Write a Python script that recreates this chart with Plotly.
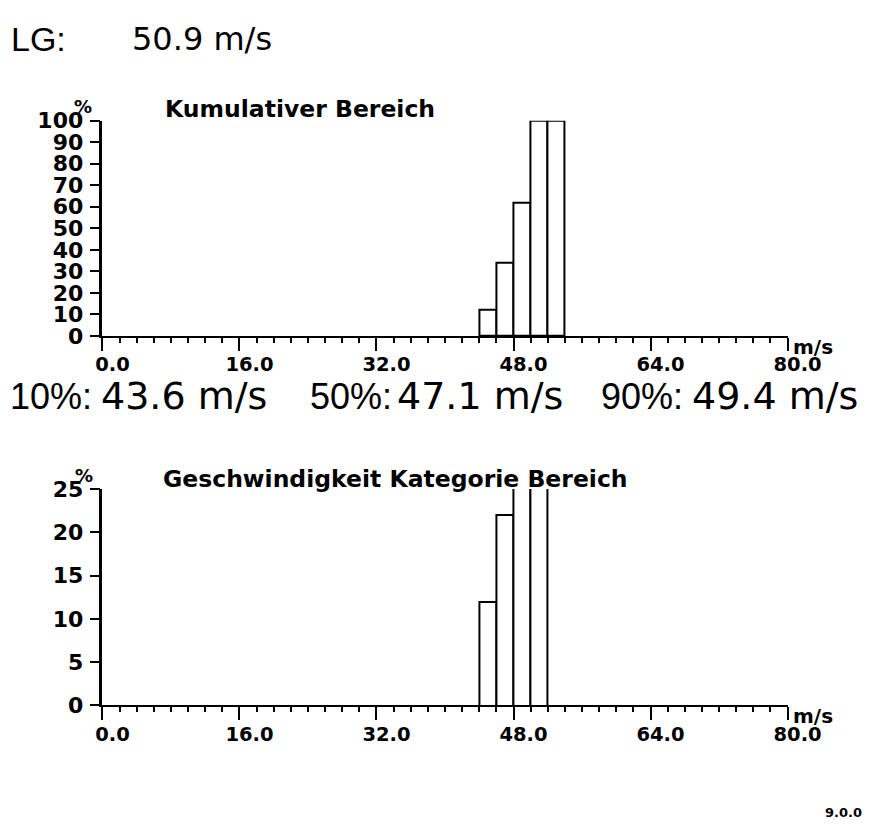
import plotly.graph_objects as go

W, H = 896, 830

# ---- data ----
bin_centers_cum = [45, 47, 49, 51, 53]
cum_percent = [12, 34, 62, 100, 100]
bin_centers_cat = [45, 47, 49, 51]
cat_percent = [12, 22, 28, 38]
bin_width = 2
x_ticks = [0, 16, 32, 48, 64, 80]
x_tick_labels = ["0.0", "16.0", "32.0", "48.0", "64.0", "80.0"]
y_ticks_cum = [0, 10, 20, 30, 40, 50, 60, 70, 80, 90, 100]
y_ticks_cat = [0, 5, 10, 15, 20, 25]
lg_text = "LG:"
lg_value = "50.9 m/s"
pct_labels = ["10%:", "50%:", "90%:"]
pct_values = ["43.6 m/s", "47.1 m/s", "49.4 m/s"]
title_cum = "Kumulativer Bereich"
title_cat = "Geschwindigkeit Kategorie Bereich"
unit = "m/s"
version = "9.0.0"


def px(x):
    return x / W


def py(y):
    return 1 - y / H


fig = go.Figure()

bar_style = dict(color="white", line=dict(color="black", width=2))
fig.add_trace(go.Bar(x=bin_centers_cum, y=cum_percent, width=bin_width,
                     marker=bar_style, xaxis="x", yaxis="y", showlegend=False))
fig.add_trace(go.Bar(x=bin_centers_cat, y=cat_percent, width=bin_width,
                     marker=bar_style, xaxis="x2", yaxis="y2", showlegend=False))

x_left, x_right = 100, 818
tickfont_x = dict(family="DejaVu Sans", size=19.5, color="black", weight="bold")
tickfont_y = dict(family="DejaVu Sans", size=22, color="black", weight="bold")

xaxis_common = dict(range=[0, 80], tickvals=x_ticks, ticktext=x_tick_labels,
                    showline=True, linecolor="black", linewidth=2,
                    ticks="outside", ticklen=13, tickwidth=2, tickcolor="black",
                    minor=dict(dtick=2, tick0=0, ticks="outside", ticklen=5,
                               tickwidth=2, tickcolor="black"),
                    showgrid=False, zeroline=False, tickfont=tickfont_x,
                    ticklabelshift=10, ticklabelstandoff=-3,
                    domain=[px(x_left), px(x_right)], fixedrange=True)

yaxis_common = dict(showline=True, linecolor="black", linewidth=2.5,
                    ticks="outside", ticklen=10, tickwidth=2, tickcolor="black",
                    showgrid=False, zeroline=False, tickfont=tickfont_y,
                    ticklabelstandoff=2, fixedrange=True)

fig.update_layout(
    width=W, height=H,
    margin=dict(l=0, r=0, t=0, b=0),
    paper_bgcolor="white", plot_bgcolor="white",
    bargap=0,
    xaxis=dict(**xaxis_common, anchor="y"),
    yaxis=dict(**yaxis_common, range=[0, 100], tickvals=y_ticks_cum,
               domain=[py(334), py(112)], anchor="x"),
    xaxis2=dict(**xaxis_common, anchor="y2"),
    yaxis2=dict(**yaxis_common, range=[0, 25], tickvals=y_ticks_cat,
                domain=[py(715), py(491.7)], anchor="x2"),
)

lg_label_font = dict(family="Liberation Sans", size=34, color="black")
lg_value_font = dict(family="DejaVu Sans", size=32, color="black")
pct_label_font = dict(family="Liberation Sans", size=36, color="black")
pct_value_font = dict(family="DejaVu Sans", size=38, color="black")
title_font = dict(family="DejaVu Sans", size=23.5, color="black", weight="bold")
pct_font = dict(family="DejaVu Sans", size=18, color="black", weight="bold")
unit_font = dict(family="DejaVu Sans", size=20, color="black", weight="bold")
ver_font = dict(family="DejaVu Sans", size=13, color="black", weight="bold")

ann = []


def add_text(text, x, y, font, xanchor="left", yanchor="middle"):
    ann.append(dict(text=text, x=px(x), y=py(y), xref="paper", yref="paper",
                    xanchor=xanchor, yanchor=yanchor, showarrow=False, font=font))


add_text(lg_text, 2, 28, lg_label_font)
add_text(lg_value, 129, 28, lg_value_font)

pct_label_x = [1, 315, 620]
pct_value_x = [96, 407, 716]
for lab, val, lx, vx in zip(pct_labels, pct_values, pct_label_x, pct_value_x):
    add_text(lab, lx, 396, pct_label_font)
    add_text(val, vx, 396, pct_value_font)

add_text(title_cum, 164, 100, title_font)
add_text(title_cat, 161, 481, title_font)

add_text("%", 80, 97, pct_font, xanchor="center")
add_text("%", 81, 478, pct_font, xanchor="center")
add_text(unit, 822, 345, unit_font)
add_text(unit, 822, 726, unit_font)
add_text(version, 855, 825, ver_font)

fig.update_layout(annotations=ann)

fig.write_html("out.html")
